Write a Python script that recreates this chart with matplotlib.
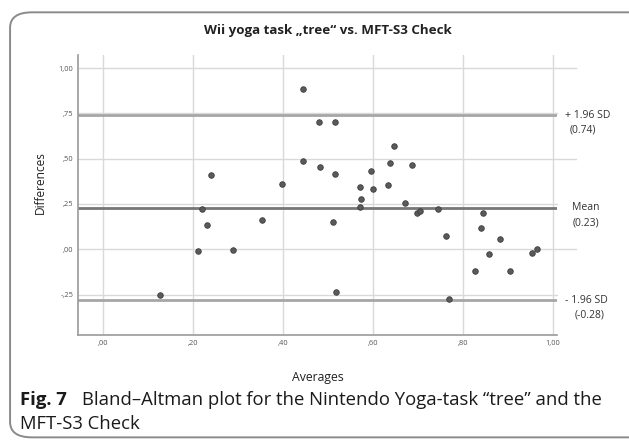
import matplotlib
matplotlib.use("Agg")
import matplotlib.pyplot as plt
from matplotlib.patches import FancyBboxPatch

plt.rcParams['font.family'] = ['Open Sans', 'DejaVu Sans']

# Averages (x) and differences (y) of the two methods
averages = [0.127, 0.212, 0.221, 0.232, 0.240, 0.290, 0.353, 0.398, 0.444, 0.444,
            0.480, 0.483, 0.516, 0.516, 0.512, 0.518, 0.572, 0.573, 0.572, 0.596,
            0.601, 0.633, 0.638, 0.648, 0.672, 0.688, 0.699, 0.705, 0.746, 0.763,
            0.770, 0.844, 0.841, 0.828, 0.858, 0.883, 0.904, 0.953, 0.966]
differences = [-0.254, -0.011, 0.222, 0.136, 0.408, -0.002, 0.160, 0.360, 0.886, 0.489,
               0.704, 0.456, 0.703, 0.414, 0.152, -0.234, 0.346, 0.276, 0.235, 0.430,
               0.333, 0.357, 0.478, 0.568, 0.257, 0.467, 0.200, 0.211, 0.221, 0.073,
               -0.272, 0.199, 0.119, -0.121, -0.028, 0.057, -0.118, -0.019, 0.003]

mean_diff = 0.23
upper_loa = 0.74
lower_loa = -0.28

x_ticks = [0.0, 0.2, 0.4, 0.6, 0.8, 1.0]
x_tick_labels = [",00", ",20", ",40", ",60", ",80", "1,00"]
y_ticks = [-0.25, 0.0, 0.25, 0.5, 0.75, 1.0]
y_tick_labels = ["-,25", ",00", ",25", ",50", ",75", "1,00"]

fig = plt.figure(figsize=(6.29, 4.40), dpi=100)

# rounded frame around figure and caption
frame = FancyBboxPatch((0.016, 0.006), 1.05, 0.966,
                       boxstyle="round,pad=0,rounding_size=0.035",
                       transform=fig.transFigure, fill=False,
                       edgecolor="#8a8a8a", linewidth=1.4, clip_on=False)
fig.patches.append(frame)

ax = fig.add_axes([0.1245, 0.2386, 0.7615, 0.6364])
ax.set_xlim(-0.0542, 1.0102)
ax.set_ylim(-0.473, 1.072)

grid_kw = dict(color="#d9d9d9", linewidth=1.0, zorder=1)
for xv in x_ticks:
    ax.axvline(xv, **grid_kw)
for yv in y_ticks:
    ext = 1.04 if yv in (0.0, 0.5, 1.0) else 1.0
    ax.axhline(yv, xmin=0, xmax=ext, clip_on=False, **grid_kw)

ax.axhline(upper_loa, color="#a6a6a6", linewidth=2.0, zorder=2)
ax.axhline(lower_loa, color="#a6a6a6", linewidth=2.0, zorder=2)
ax.axhline(mean_diff, color="#777777", linewidth=2.0, zorder=2)

ax.scatter(averages, differences, s=16, color="#5a5a5a", edgecolors="#3c3c3c",
           linewidths=0.6, zorder=3)

ax.set_xticks(x_ticks)
ax.set_xticklabels(x_tick_labels)
ax.set_yticks(y_ticks)
ax.set_yticklabels(y_tick_labels)
ax.tick_params(length=0, labelsize=5.4, labelcolor="#555555")
ax.tick_params(axis="x", pad=3.5)
ax.tick_params(axis="y", pad=3.5)

for side in ("top", "right"):
    ax.spines[side].set_visible(False)
for side in ("left", "bottom"):
    ax.spines[side].set_color("#9a9a9a")
    ax.spines[side].set_linewidth(1.2)

# axis titles
fig.text(40 / 629, 1 - 183 / 440, "Differences", rotation=90, ha="center",
         va="center", fontsize=8.6, color="#222222")
fig.text(318 / 629, 1 - 377 / 440, "Averages", ha="center", va="center",
         fontsize=8.8, color="#222222")

# labels for the mean and limits of agreement
lab_kw = dict(fontsize=7.5, color="#333333", transform=ax.get_yaxis_transform(),
              clip_on=False, va="center")
ax.text(1.016, upper_loa, "+ 1.96 SD", ha="left", **lab_kw)
ax.text(1.054, upper_loa - 0.083, f"({upper_loa:.2f})", ha="center", **lab_kw)
ax.text(1.060, mean_diff, "Mean", ha="center", **lab_kw)
ax.text(1.060, mean_diff - 0.083, f"({mean_diff:.2f})", ha="center", **lab_kw)
ax.text(1.016, lower_loa, "- 1.96 SD", ha="left", **lab_kw)
ax.text(1.068, lower_loa - 0.083, f"({lower_loa:.2f})", ha="center", **lab_kw)

fig.text(0.522, 0.93, "Wii yoga task \u201etree\u201c vs. MFT-S3 Check",
         ha="center", va="center", fontsize=9.6, fontweight="bold", color="#222222")

cap_kw = dict(ha="left", va="baseline", fontsize=13.3, color="#1a1a1a")
fig.text(0.032, 1 - 405 / 440, "Fig. 7", fontweight="bold", **cap_kw)
fig.text(0.131, 1 - 405 / 440,
         "Bland\u2013Altman plot for the Nintendo Yoga-task \u201ctree\u201d and the",
         **cap_kw)
fig.text(0.032, 1 - 429 / 440, "MFT-S3 Check", **cap_kw)

fig.savefig("out.png", dpi=100)
